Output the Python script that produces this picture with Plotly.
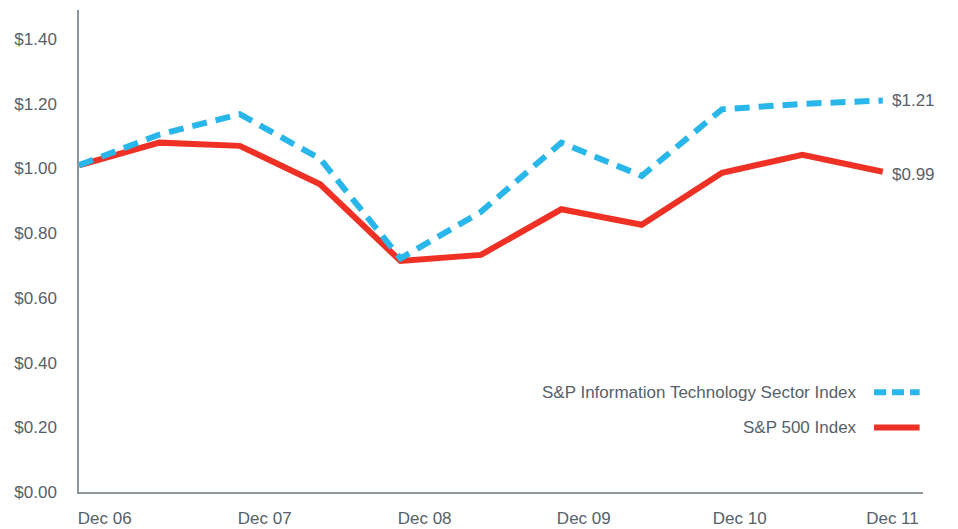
import plotly.graph_objects as go

# Semi-annual periods, Dec 06 through Dec 11 (value of $1 invested)
periods = ["Dec 06", "Jun 07", "Dec 07", "Jun 08", "Dec 08", "Jun 09",
           "Dec 09", "Jun 10", "Dec 10", "Jun 11", "Dec 11"]
it_sector = [1.01, 1.105, 1.168, 1.03, 0.722, 0.866, 1.08, 0.977, 1.183, 1.20, 1.21]
sp500 = [1.01, 1.08, 1.07, 0.951, 0.714, 0.733, 0.874, 0.826, 0.987, 1.042, 0.99]

year_labels = ["Dec 06", "Dec 07", "Dec 08", "Dec 09", "Dec 10", "Dec 11"]
year_label_pos = [0.32, 2.31, 4.30, 6.28, 8.22, 10.12]
y_ticks = [0, 0.2, 0.4, 0.6, 0.8, 1.0, 1.2, 1.4]

BLUE = "#29B6EA"
RED = "#EE3124"
TEXT = "#56616A"
AXIS = "#8C959B"
FONT = "Liberation Sans, Arial, sans-serif"
FS = 17

x_idx = list(range(len(periods)))

fig = go.Figure()
fig.add_trace(go.Scatter(
    x=x_idx, y=sp500, mode="lines", name="S&P 500 Index",
    line=dict(color=RED, width=6), hoverinfo="skip", showlegend=False))
fig.add_trace(go.Scatter(
    x=x_idx, y=it_sector, mode="lines", name="S&P Information Technology Sector Index",
    line=dict(color=BLUE, width=6, dash="15px,9px"), hoverinfo="skip", showlegend=False))

# End-of-period value labels
for series, yshift in ((it_sector, 0), (sp500, -3)):
    fig.add_annotation(x=x_idx[-1], y=series[-1], text=f"${series[-1]:.2f}",
                       showarrow=False, xanchor="left", xshift=7, yshift=yshift,
                       font=dict(family=FONT, size=FS, color=TEXT))

# Legend: text right-aligned with the line sample to its right
legend_items = [("S&P Information Technology Sector Index", BLUE, True, 0.207),
                ("S&P 500 Index", RED, False, 0.134)]
for label, color, dashed, ypos in legend_items:
    fig.add_annotation(x=0.924, y=ypos, xref="paper", yref="paper", text=label,
                       showarrow=False, xanchor="right", yanchor="middle",
                       font=dict(family=FONT, size=FS, color=TEXT))
    fig.add_shape(type="line", xref="paper", yref="paper",
                  x0=0.942, x1=0.996, y0=ypos, y1=ypos,
                  line=dict(color=color, width=6,
                            dash="12px,6px" if dashed else "solid"))

fig.update_layout(
    width=958, height=529,
    margin=dict(l=79, r=35, t=10, b=37),
    paper_bgcolor="white", plot_bgcolor="white",
    font=dict(family=FONT, size=FS, color=TEXT),
    xaxis=dict(range=[0, 10.5], showgrid=False, zeroline=False, automargin=False,
               showline=True, linecolor=AXIS, linewidth=1.5,
               tickvals=year_label_pos, ticktext=year_labels, ticks="",
               ticklabelstandoff=10, tickfont=dict(size=FS, color=TEXT)),
    yaxis=dict(range=[0, 1.49], showgrid=False, zeroline=False, automargin=False,
               showline=True, linecolor=AXIS, linewidth=1.5,
               tickvals=y_ticks, ticktext=[f"${v:.2f}" for v in y_ticks], ticks="",
               ticklabelstandoff=17, tickfont=dict(size=FS, color=TEXT)),
)

fig.write_html("out.html")
